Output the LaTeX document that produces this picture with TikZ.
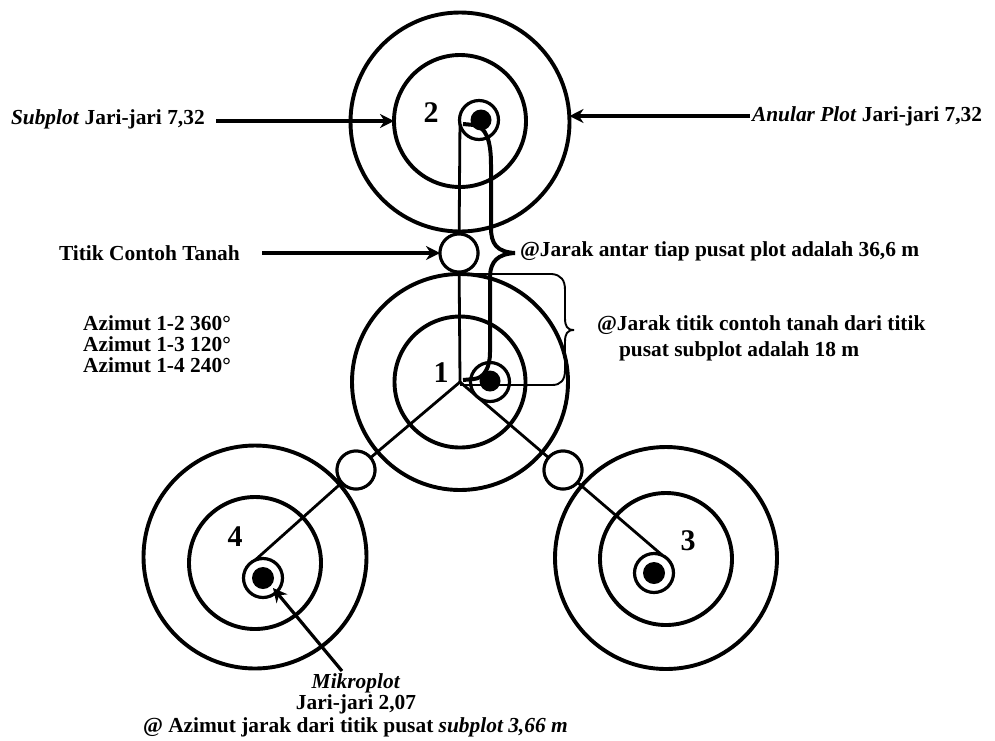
\documentclass[tikz,border=0pt]{standalone}
\usepackage{fontspec}
\setmainfont{Liberation Serif}
\usetikzlibrary{arrows.meta}
\tikzset{
  x=1pt,y=-1pt,
  ring/.style={draw=black,line width=3.9pt,circle,inner sep=0pt,outer sep=0pt,minimum size=#1},
  microring/.style={draw=black,line width=3.2pt,circle,inner sep=0pt,outer sep=0pt,minimum size=39pt},
  dot/.style={fill=black,circle,inner sep=0pt,outer sep=0pt,minimum size=#1},
  soil/.style={draw=black,fill=white,line width=3pt,circle,inner sep=0pt,outer sep=0pt,minimum size=38pt},
  axis/.style={draw=black,line width=2.8pt},
  pointer/.style={draw=black,line width=3.2pt,-{Stealth[length=14pt,width=14pt]}},
  label/.style={font=\bfseries\fontsize{21.4pt}{21pt}\selectfont,inner sep=0pt,outer sep=0pt},
  num/.style={font=\bfseries\fontsize{30pt}{30pt}\selectfont,inner sep=0pt},
}
\begin{document}
\begin{tikzpicture}
\useasboundingbox (0,0) rectangle (995,740);
\fill[white] (0,0) rectangle (995,740);
% plot 1
\node[ring=216pt] (o1) at (460,382) {};
\node[ring=131pt] (i1) at (460,382) {};
% plot 2
\node[ring=219pt] (o2) at (460,122) {};
\node[ring=132pt] (i2) at (460,121) {};
% plot 3
\node[ring=222pt] (o3) at (666,558) {};
\node[ring=132pt] (i3) at (666,559) {};
% plot 4
\node[ring=223pt] (o4) at (255,557) {};
\node[ring=132pt] (i4) at (255,563) {};
% centres
\coordinate (c1) at (460,382);
\coordinate (c2) at (460,118);
\coordinate (c3) at (662,555);
\coordinate (c4) at (253,562);
% soil sample points and spokes
\node[soil] (s2) at (459,253) {};
\node[soil] (s3) at (563,470) {};
\node[soil] (s4) at (356,470) {};
\draw[axis] (c1) -- (s2) -- (c2);
\draw[axis] (c1) -- (s3) -- (c3);
\draw[axis] (c1) -- (s4) -- (c4);
\node[soil] at (s2) {};
\node[soil] at (s3) {};
\node[soil] at (s4) {};
% microplots
\node[microring,fill=white] (m1) at (490,382) {};
\node[dot=21pt] (d1) at (490,381) {};
\node[microring,fill=white] (m2) at (479,120) {};
\node[dot=21pt] (d2) at (481,120) {};
\node[microring,fill=white] (m3) at (654,573) {};
\node[dot=22pt] (d3) at (654,573) {};
\node[microring,fill=white] (m4) at (263,578) {};
\node[dot=22pt] (d4) at (263,578) {};
% braces
\coordinate (bt) at (463,124);
\coordinate (bb) at (463,380);
\coordinate (btip) at (515,253);
\draw[line width=4pt] (bt) -- (474,125) .. controls (486,127) and (491,140) .. (491,165)
  -- (491,228) .. controls (491,244) and (497,252) .. (btip);
\draw[line width=4pt] (btip) .. controls (497,254) and (491,262) .. (490,275)
  -- (490,352) .. controls (490,368) and (484,378) .. (474,379) -- (bb);
\coordinate (tt) at (460,274);
\coordinate (tb) at (460,385);
\coordinate (ttip) at (574,330);
\draw[line width=1.9pt] (tt) -- (552,274) .. controls (561,275) and (565,280) .. (565,290)
  -- (565,318) .. controls (565,326) and (567,330) .. (ttip);
\draw[line width=1.9pt] (ttip) .. controls (567,330) and (565,334) .. (565,342)
  -- (565,370) .. controls (565,380) and (561,385) .. (552,385) -- (tb);
% numbers
\node[num] (n1) at (441,373) {1};
\node[num] (n2) at (431,113) {2};
\node[num] (n3) at (688,541) {3};
\node[num] (n4) at (235,537) {4};
% labels
\node[label,anchor=west] (lsub) at (11,119) {\textit{Subplot} Jari-jari 7,32};
\node[label,anchor=east] (lanu) at (982,116) {\textit{Anular Plot} Jari-jari 7,32};
\node[label,anchor=west] (lsoil) at (59,253) {Titik Contoh Tanah};
\node[label,anchor=west] (ljar) at (520,251) {@Jarak antar tiap pusat plot adalah 36,6 m};
\node[label,align=center] (lazi) at (157,344) {Azimut 1-2 360°\\Azimut 1-3 120°\\Azimut 1-4 240°};
\node[label,anchor=west] (ltt1) at (597,325) {@Jarak titik contoh tanah dari titik};
\node[label,anchor=west] (ltt2) at (619,351) {pusat subplot adalah 18 m};
\node[label,align=center] (lmik) at (356,694) {\textit{Mikroplot}\\Jari-jari 2,07};
\node[label,anchor=west] (laz) at (143,727) {@ Azimut jarak dari titik pusat \textit{subplot 3,66 m}};
% pointers
\coordinate (psub) at (216,121);
\coordinate (panu) at (750,116);
\coordinate (psoil) at (262,253);
\coordinate (pmik) at (342,671);
\coordinate (tmik) at (273,588);
\draw[pointer] (psub) -- (i2.west|-psub);
\draw[pointer] (panu) -- (o2.east|-panu);
\draw[pointer] (psoil) -- (s2);
\draw[pointer] (pmik) -- (tmik);
\end{tikzpicture}
\end{document}
